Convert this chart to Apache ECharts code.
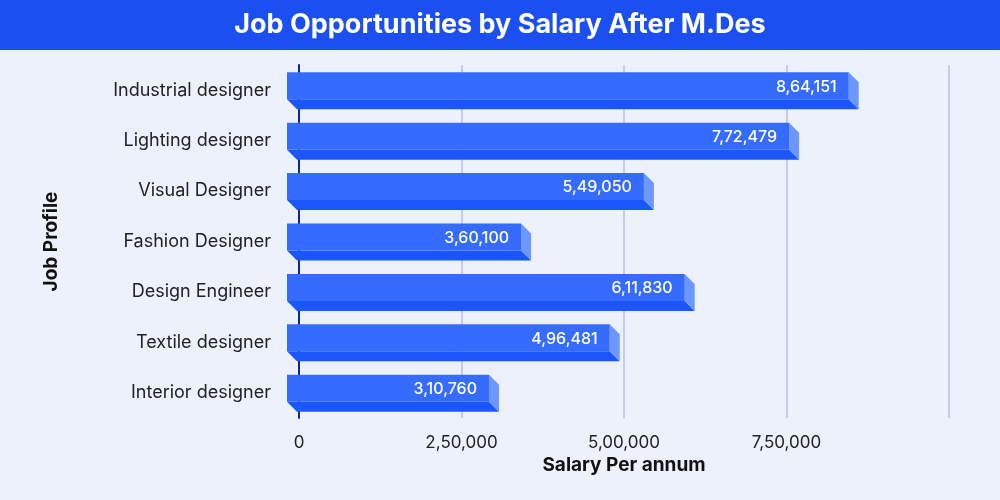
<!DOCTYPE html><html><head><meta charset="utf-8"><script src="https://cdn.jsdelivr.net/npm/echarts@6/dist/echarts.min.js"></script>
<style>body{margin:0;background:#edf1fc}#c{width:1000px;height:500px}</style></head><body><div id="c"></div><script>
const categories=["Industrial designer","Lighting designer","Visual Designer","Fashion Designer","Design Engineer","Textile designer","Interior designer"];
const salaries=[864151,772479,549050,360100,611830,496481,310760];
const tickLabels={0:"0",250000:"2,50,000",500000:"5,00,000",750000:"7,50,000"};
function inr(v){const s=String(v);if(s.length<=3)return s;let last=s.slice(-3),rest=s.slice(0,-3);rest=rest.replace(/\B(?=(\d{2})+(?!\d))/g,",");return rest+","+last;}
const ch=echarts.init(document.getElementById('c'));
ch.setOption({backgroundColor:'#edf1fc',
graphic:[{type:'rect',shape:{x:0,y:0,width:1000,height:50},style:{fill:'#1c4ff2'},z:-1}],
title:{text:'Job Opportunities by Salary After M.Des',left:'center',top:6,textStyle:{color:'#fff',fontFamily:'Inter',fontWeight:'bold',fontSize:27}},
grid:{left:299,right:51,top:65,bottom:82},
xAxis:{type:'value',min:0,max:1000000,interval:250000,name:'Salary Per annum',nameLocation:'middle',nameGap:38,nameTextStyle:{fontFamily:'Inter',fontWeight:'bold',fontSize:19,color:'#111'},
axisLabel:{formatter:v=>tickLabels[v]||'',fontFamily:'Inter',fontSize:17,color:'#222',margin:16},axisLine:{show:false},axisTick:{show:false},
splitLine:{lineStyle:{color:'#c3cce8',width:2}}},
yAxis:{type:'category',data:categories,inverse:true,name:'Job Profile',nameLocation:'middle',nameGap:238,nameRotate:90,nameTextStyle:{fontFamily:'Inter',fontWeight:'bold',fontSize:19,color:'#111'},
axisLabel:{fontFamily:'Inter',fontSize:18,color:'#222',margin:28},axisTick:{show:false},axisLine:{lineStyle:{color:'#0d2a8a',width:2}}},
series:[{type:'custom',data:salaries.map((v,i)=>[v,i]),encode:{x:0,y:1},renderItem:(p,api)=>{
 const e=api.coord([api.value(0),api.value(1)]);const s=api.coord([0,api.value(1)]);
 const x0=s[0]-12,x1=e[0]-12,h=27,d=10,y=e[1]-18;
 return {type:'group',children:[
  {type:'polygon',shape:{points:[[x0,y+h],[x1,y+h],[x1+d,y+h+d],[x0+d,y+h+d]]},style:{fill:'#1a56fb'}},
  {type:'polygon',shape:{points:[[x1,y],[x1+d,y+d],[x1+d,y+h+d],[x1,y+h]]},style:{fill:'#6b97ff'}},
  {type:'rect',shape:{x:x0,y:y,width:x1-x0,height:h},style:{fill:'#366cfd'}},
  {type:'text',style:{x:x1-12,y:y+h/2+1,text:inr(api.value(0)),align:'right',verticalAlign:'middle',fill:'#fff',font:'500 16px Inter'}}
 ]};}}]});
</script></body></html>
